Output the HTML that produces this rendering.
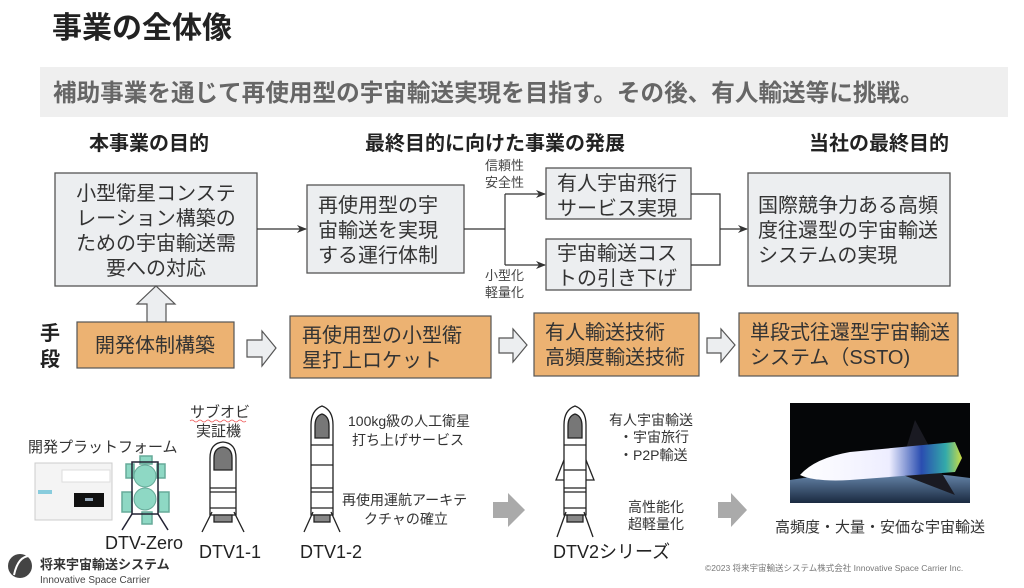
<!DOCTYPE html>
<html><head><meta charset="utf-8"><style>
html,body{margin:0;padding:0;background:#fff;}
svg{display:block;}
text{font-family:"Liberation Sans","Noto Sans CJK JP",sans-serif;}
</style></head><body>
<svg width="1024" height="588" viewBox="0 0 1024 588" xmlns="http://www.w3.org/2000/svg">
<defs>
<marker id="ah" markerWidth="10" markerHeight="8" refX="9" refY="4" orient="auto" markerUnits="userSpaceOnUse"><path d="M0,0 L10,4 L0,8 L3,4 z" fill="#333"/></marker>
<linearGradient id="sp" x1="0" x2="1"><stop offset="0" stop-color="#fff"/><stop offset="0.55" stop-color="#eef"/><stop offset="0.75" stop-color="#2a4db0"/><stop offset="0.9" stop-color="#3aa"/><stop offset="1" stop-color="#cd4"/></linearGradient>
<linearGradient id="earth" x1="0" y1="0" x2="0" y2="1"><stop offset="0" stop-color="#6a8ab0"/><stop offset="1" stop-color="#1a2a40"/></linearGradient>
</defs>
<!-- title -->
<text x="52" y="38" font-size="30" font-weight="bold" fill="#222">事業の全体像</text>
<rect x="40" y="67" width="968" height="50" fill="#efefef"/>
<text x="53" y="101" font-size="23.6" font-weight="bold" fill="#666">補助事業を通じて再使用型の宇宙輸送実現を目指す。その後、有人輸送等に挑戦。</text>
<!-- headings -->
<g font-size="20" font-weight="bold" fill="#222" text-anchor="middle">
<text x="149" y="150">本事業の目的</text>
<text x="495" y="150">最終目的に向けた事業の発展</text>
<text x="879" y="150">当社の最終目的</text>
</g>
<!-- grey boxes -->
<g fill="#eceef0" stroke="#555" stroke-width="1.3">
<rect x="55" y="173" width="202" height="113"/>
<rect x="307" y="185" width="157" height="88"/>
<rect x="546" y="168" width="145" height="51"/>
<rect x="546" y="239" width="145" height="51"/>
<rect x="748" y="173" width="202" height="113"/>
</g>
<g font-size="20" fill="#333">
<text x="140" y="200" text-anchor="middle"><tspan x="156">小型衛星コンステ</tspan><tspan x="156" dy="25">レーション構築の</tspan><tspan x="156" dy="25">ための宇宙輸送需</tspan><tspan x="156" dy="25">要への対応</tspan></text>
<text x="318" y="212"><tspan x="318">再使用型の宇</tspan><tspan x="318" dy="25">宙輸送を実現</tspan><tspan x="318" dy="25">する運行体制</tspan></text>
<text x="557" y="190"><tspan x="557">有人宇宙飛行</tspan><tspan x="557" dy="25">サービス実現</tspan></text>
<text x="557" y="260"><tspan x="557">宇宙輸送コス</tspan><tspan x="557" dy="25">トの引き下げ</tspan></text>
<text x="758" y="212"><tspan x="758">国際競争力ある高頻</tspan><tspan x="758" dy="25">度往還型の宇宙輸送</tspan><tspan x="758" dy="25">システムの実現</tspan></text>
</g>
<!-- connectors -->
<g stroke="#333" stroke-width="1.2" fill="none">
<line x1="257" y1="229" x2="306" y2="229" marker-end="url(#ah)"/>
<polyline points="464,229 505,229"/>
<polyline points="505,194 505,265"/>
<line x1="505" y1="194" x2="545" y2="194" marker-end="url(#ah)"/>
<line x1="505" y1="265" x2="545" y2="265" marker-end="url(#ah)"/>
<polyline points="691,194 720,194 720,265 691,265"/>
<line x1="720" y1="229" x2="747" y2="229" marker-end="url(#ah)"/>
</g>
<g font-size="13" fill="#444">
<text x="485" y="170">信頼性</text><text x="485" y="187">安全性</text>
<text x="485" y="280">小型化</text><text x="485" y="297">軽量化</text>
</g>
<!-- up arrow -->
<path d="M147,322 L147,304 L137,304 L156,286 L175,304 L166,304 L166,322 Z" fill="#eceef0" stroke="#555" stroke-width="1.2"/>
<!-- 手段 -->
<text x="40" y="340" font-size="20" font-weight="bold" fill="#222">手</text>
<text x="40" y="366" font-size="20" font-weight="bold" fill="#222">段</text>
<!-- orange boxes -->
<g fill="#ecb272" stroke="#555" stroke-width="1.2">
<rect x="77" y="322" width="157" height="46"/>
<rect x="290" y="316" width="201" height="62"/>
<rect x="534" y="313" width="165" height="63"/>
<rect x="739" y="313" width="219" height="63"/>
</g>
<g font-size="20" fill="#333">
<text x="95" y="352">開発体制構築</text>
<text x="302" y="342"><tspan x="302">再使用型の小型衛</tspan><tspan x="302" dy="25">星打上ロケット</tspan></text>
<text x="545" y="339"><tspan x="545">有人輸送技術</tspan><tspan x="545" dy="25">高頻度輸送技術</tspan></text>
<text x="750" y="339"><tspan x="750">単段式往還型宇宙輸送</tspan><tspan x="750" dy="25">システム（SSTO)</tspan></text>
</g>
<!-- hollow arrows -->
<g fill="#eceef0" stroke="#555" stroke-width="1.2">
<path d="M247,340 L262,340 L262,331 L276,348 L262,366 L262,357 L247,357 Z"/>
<path d="M499,338 L513,338 L513,329 L527,345 L513,362 L513,353 L499,353 Z"/>
<path d="M707,338 L721,338 L721,329 L735,345 L721,362 L721,353 L707,353 Z"/>
</g>
<!-- bottom texts -->
<g font-size="15" fill="#333">
<text x="28" y="452">開発プラットフォーム</text>
<text x="190" y="417">サブオビ</text>
<text x="196" y="436">実証機</text>
<text x="348" y="426" font-size="14">100kg級の人工衛星</text>
<text x="352" y="445" font-size="14">打ち上げサービス</text>
<text x="342" y="505" font-size="14">再使用運航アーキテ</text>
<text x="364" y="524" font-size="14">クチャの確立</text>
<text x="609" y="425" font-size="14">有人宇宙輸送</text>
<text x="619" y="442" font-size="14">・宇宙旅行</text>
<text x="619" y="460" font-size="14">・P2P輸送</text>
<text x="628" y="512" font-size="14">高性能化</text>
<text x="628" y="529" font-size="14">超軽量化</text>
<text x="775" y="532">高頻度・大量・安価な宇宙輸送</text>
</g>
<path d="M190,421 q2,-2 4,0 t4,0 t4,0 t4,0 t4,0 t4,0 t4,0 t4,0 t4,0 t4,0 t4,0 t4,0 t4,0 t4,0" stroke="#e55" stroke-width="0.8" fill="none"/>
<g font-size="18" fill="#222">
<text x="105" y="549">DTV-Zero</text>
<text x="199" y="558">DTV1-1</text>
<text x="300" y="558">DTV1-2</text>
<text x="553" y="558">DTV2シリーズ</text>
</g>
<!-- grey arrows -->
<path d="M493,502 L508,502 L508,493 L525,510 L508,527 L508,518 L493,518 Z" fill="#aaa"/>
<path d="M718,502 L731,502 L731,493 L747,510 L731,527 L731,518 L718,518 Z" fill="#aaa"/>
<!-- screenshot -->
<rect x="35" y="463" width="77" height="57" fill="#f4f4f4" stroke="#ccc"/>
<rect x="62" y="470" width="48" height="12" fill="#fff" stroke="#ddd"/>
<rect x="74" y="493" width="30" height="14" fill="#111"/>
<rect x="85" y="498" width="8" height="3" fill="#9ab"/>
<rect x="38" y="490" width="14" height="4" fill="#8cd"/>
<!-- DTV-Zero -->
<g stroke="#223" stroke-width="1.5">
<rect x="126" y="464" width="8" height="14" fill="#8ed8c4" stroke="#6a9"/>
<rect x="157" y="464" width="8" height="14" fill="#8ed8c4" stroke="#6a9"/>
<rect x="122" y="492" width="10" height="20" fill="#8ed8c4" stroke="#6a9"/>
<rect x="159" y="492" width="10" height="20" fill="#8ed8c4" stroke="#6a9"/>
<rect x="140" y="456" width="12" height="8" fill="#8ed8c4" stroke="#6a9"/>
<rect x="142" y="512" width="10" height="12" fill="#8ed8c4" stroke="#6a9"/>
<rect x="132" y="462" width="26" height="52" fill="none"/>
<circle cx="145" cy="476" r="11" fill="#8ed8c4" stroke="#6a9" stroke-width="1"/>
<circle cx="145" cy="499" r="11" fill="#8ed8c4" stroke="#6a9" stroke-width="1"/>
<line x1="132" y1="514" x2="122" y2="530"/><line x1="158" y1="514" x2="168" y2="530"/>
</g>
<!-- DTV1-1 -->
<g stroke="#222" stroke-width="1.3" fill="#fff">
<path d="M210,515 L210,458 Q210,443 223,442 Q236,443 236,458 L236,515 Z"/>
<path d="M214,470 L214,458 Q214,448 223,447 Q232,448 232,458 L232,470 Z" fill="#777"/>
<line x1="210" y1="488" x2="236" y2="488"/><line x1="210" y1="492" x2="236" y2="492"/>
<line x1="210" y1="508" x2="236" y2="508"/>
<rect x="214" y="515" width="18" height="7" fill="#888"/>
<line x1="212" y1="512" x2="202" y2="532"/><line x1="234" y1="512" x2="244" y2="532"/>
</g>
<!-- DTV1-2 -->
<g stroke="#222" stroke-width="1.3" fill="#fff">
<path d="M311,515 L311,425 Q311,410 322,406 Q333,410 333,425 L333,515 Z"/>
<path d="M315,438 L315,426 Q315,416 322,414 Q329,416 329,426 L329,438 Z" fill="#777"/>
<line x1="311" y1="445" x2="333" y2="445"/><line x1="311" y1="465" x2="333" y2="465"/>
<line x1="311" y1="488" x2="333" y2="488"/><line x1="311" y1="492" x2="333" y2="492"/>
<line x1="311" y1="508" x2="333" y2="508"/>
<rect x="314" y="515" width="16" height="7" fill="#888"/>
<line x1="313" y1="512" x2="304" y2="532"/><line x1="331" y1="512" x2="340" y2="532"/>
</g>
<!-- DTV2 -->
<g stroke="#222" stroke-width="1.3" fill="#fff">
<path d="M566,455 L556,480 L566,480 Z"/><path d="M584,455 L594,480 L584,480 Z"/>
<path d="M564,515 L564,425 Q564,410 575,406 Q586,410 586,425 L586,515 Z"/>
<path d="M568,438 L568,426 Q568,416 575,414 Q582,416 582,426 L582,438 Z" fill="#777"/>
<line x1="564" y1="445" x2="586" y2="445"/><line x1="564" y1="470" x2="586" y2="470"/>
<line x1="564" y1="488" x2="586" y2="488"/><line x1="564" y1="492" x2="586" y2="492"/>
<line x1="564" y1="508" x2="586" y2="508"/>
<rect x="567" y="515" width="16" height="7" fill="#888"/>
<line x1="566" y1="512" x2="557" y2="537"/><line x1="584" y1="512" x2="593" y2="537"/>
</g>
<!-- spaceplane image -->
<rect x="790" y="403" width="180" height="100" fill="#050608"/>
<path d="M790,480 Q880,465 970,478 L970,503 L790,503 Z" fill="url(#earth)"/>
<path d="M905,452 L915,420 L930,448 Z" fill="#1a1a22"/>
<path d="M890,470 L955,495 L940,470 Z" fill="#1a1a22"/>
<path d="M800,475 Q815,458 850,452 L955,442 L962,458 L955,472 L850,480 Q815,482 800,475 Z" fill="url(#sp)"/>
<!-- logo -->
<circle cx="20" cy="566" r="12" fill="#444"/>
<path d="M14,575 Q18,556 30,556" stroke="#fff" stroke-width="2" fill="none"/>
<text x="40" y="569" font-size="13" font-weight="bold" fill="#333">将来宇宙輸送システム</text>
<text x="40" y="583" font-size="10" fill="#444">Innovative Space Carrier</text>
<text x="705" y="571" font-size="8.5" fill="#777">©2023 将来宇宙輸送システム株式会社 Innovative Space Carrier Inc.</text>
</svg>
</body></html>
